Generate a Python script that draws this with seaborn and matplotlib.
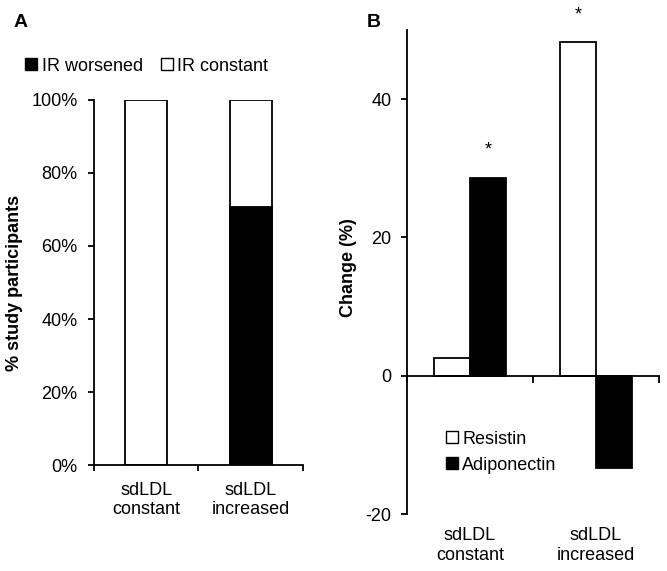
import pandas as pd
import matplotlib.pyplot as plt
import matplotlib.transforms as mtransforms
from matplotlib.patches import Patch
import seaborn as sns

# Panel A data: % study participants
groups = ['sdLDL\nconstant', 'sdLDL\nincreased']
ir_worsened = [0.0, 70.6]
ir_constant = [100.0, 29.4]

# Panel B data: change (%)
markers = ['Resistin', 'Adiponectin']
resistin_change = [2.6, 48.2]
adiponectin_change = [28.6, -13.3]
significant = {('Adiponectin', 0): True, ('Resistin', 1): True}

sns.set_style("white")
plt.rcParams['font.family'] = ['Liberation Sans', 'DejaVu Sans']
plt.rcParams['font.size'] = 13
plt.rcParams['text.color'] = 'black'
plt.rcParams['axes.labelcolor'] = 'black'
plt.rcParams['xtick.color'] = 'black'
plt.rcParams['ytick.color'] = 'black'
plt.rcParams['axes.unicode_minus'] = False

FS = 13

fig = plt.figure(figsize=(6.67, 5.71), dpi=100)
ax_a = fig.add_axes([0.141, 0.1856, 0.313, 0.6393])
ax_b = fig.add_axes([0.610, 0.0998, 0.378, 0.8477])

lw = 1.3

# ---- Panel A: stacked bars ----
df_a = pd.DataFrame({
    'group': groups,
    'total': [w + c for w, c in zip(ir_worsened, ir_constant)],
    'worsened': ir_worsened,
})
sns.barplot(data=df_a, x='group', y='total', color='white', edgecolor='black',
            linewidth=lw, width=0.4, saturation=1, ax=ax_a)
sns.barplot(data=df_a, x='group', y='worsened', color='black', edgecolor='black',
            linewidth=lw, width=0.4, saturation=1, ax=ax_a)

ax_a.set_xlim(-0.5, 1.5)
ax_a.set_ylim(0, 100)
ax_a.set_yticks([0, 20, 40, 60, 80, 100])
ax_a.set_yticklabels([f'{v}%' for v in [0, 20, 40, 60, 80, 100]])
ax_a.set_xticks([-0.5, 0.5, 1.5])
ax_a.set_xticklabels([])
ax_a.set_xticks([0, 1], minor=True)
ax_a.set_xticklabels(groups, minor=True)
ax_a.tick_params(axis='x', which='minor', length=0, pad=12, labelsize=FS)
ax_a.tick_params(axis='x', which='major', direction='out', length=4, width=lw, bottom=True)
ax_a.tick_params(axis='y', direction='out', length=4, width=lw, left=True,
                 labelsize=FS, pad=8)
ax_a.set_xlabel('')
ax_a.set_ylabel('% study participants', fontweight='bold', fontsize=FS)
ax_a.yaxis.set_label_coords(-0.34, 0.5)
for side in ['top', 'right']:
    ax_a.spines[side].set_visible(False)
for side in ['left', 'bottom']:
    ax_a.spines[side].set_linewidth(lw)
    ax_a.spines[side].set_color('black')

fig.legend(handles=[Patch(facecolor='black', edgecolor='black', label='IR worsened'),
                    Patch(facecolor='white', edgecolor='black', label='IR constant')],
           loc='center left', bbox_to_anchor=(0.038, 0.884), ncol=2, frameon=False,
           fontsize=FS, handlelength=0.65, handleheight=0.65, handletextpad=0.25,
           columnspacing=1.0, borderaxespad=0, borderpad=0)

# ---- Panel B: grouped bars ----
df_b = pd.DataFrame({
    'group': groups * 2,
    'marker': ['Resistin'] * 2 + ['Adiponectin'] * 2,
    'change': resistin_change + adiponectin_change,
})
sns.barplot(data=df_b, x='group', y='change', hue='marker', hue_order=markers,
            palette={'Resistin': 'white', 'Adiponectin': 'black'}, edgecolor='black',
            linewidth=lw, width=0.575, saturation=1, legend=False, ax=ax_b)

ax_b.set_xlim(-0.5, 1.5)
ax_b.set_ylim(-20, 50)
ax_b.set_yticks([-20, 0, 20, 40])
ax_b.set_xticks([-0.5, 0.5, 1.5])
ax_b.set_xticklabels([])
ax_b.spines['bottom'].set_position(('data', 0))
ax_b.tick_params(axis='x', direction='out', length=5, width=lw, bottom=True)
ax_b.tick_params(axis='y', direction='out', length=4, width=lw, left=True,
                 labelsize=FS, pad=7)
ax_b.set_xlabel('')
ax_b.set_ylabel('Change (%)', fontweight='bold', fontsize=FS)
ax_b.yaxis.set_label_coords(-0.198, 0.509)
for side in ['top', 'right']:
    ax_b.spines[side].set_visible(False)
for side in ['left', 'bottom']:
    ax_b.spines[side].set_linewidth(lw)
    ax_b.spines[side].set_color('black')

trans = mtransforms.blended_transform_factory(ax_b.transData, ax_b.transAxes)
for i, g in enumerate(groups):
    ax_b.text(i, -0.027, g, transform=trans, ha='center', va='top', fontsize=FS)

# significance asterisks
offset = 0.575 / 4
values = {'Resistin': resistin_change, 'Adiponectin': adiponectin_change}
for (m, i), sig in significant.items():
    if sig:
        x = i + (-offset if m == 'Resistin' else offset)
        ax_b.text(x, values[m][i] + 4.0, '*', ha='center', va='center',
                  fontsize=FS, clip_on=False)

ax_b.legend(handles=[Patch(facecolor='white', edgecolor='black', label='Resistin'),
                     Patch(facecolor='black', edgecolor='black', label='Adiponectin')],
            loc='upper left', bbox_to_anchor=(0.155, 0.172), frameon=False, fontsize=FS,
            handlelength=0.65, handleheight=0.65, handletextpad=0.25, labelspacing=0.5,
            borderaxespad=0, borderpad=0)

fig.text(0.02, 0.96, 'A', fontweight='bold', fontsize=14, va='center')
fig.text(0.55, 0.96, 'B', fontweight='bold', fontsize=14, va='center')

plt.savefig('out.png', dpi=100)
plt.close()
